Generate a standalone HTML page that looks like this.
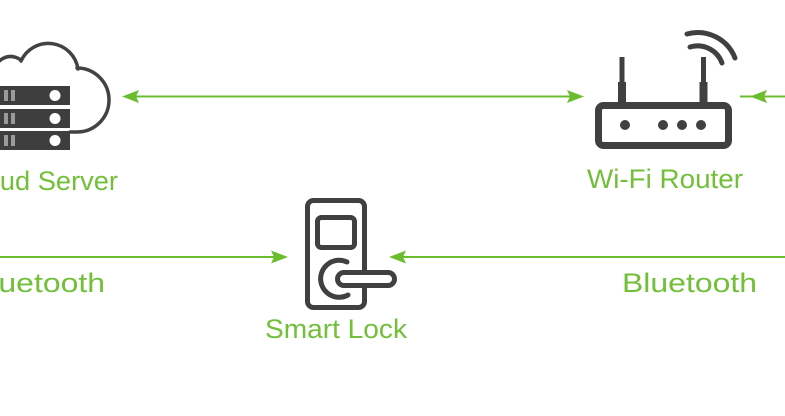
<!DOCTYPE html>
<html>
<head>
<meta charset="utf-8">
<style>
  html,body{margin:0;padding:0;background:#fff;}
  body{width:785px;height:416px;overflow:hidden;}
  svg{display:block;}
  text{font-family:"Liberation Sans",sans-serif;fill:#72bf3a;font-size:27px;}
</style>
</head>
<body>
<svg width="785" height="416" viewBox="0 0 785 416" xmlns="http://www.w3.org/2000/svg">
  <rect width="785" height="416" fill="#fff"/>

  <!-- ===== Cloud Server icon ===== -->
  <g fill="none" stroke="#424242" stroke-width="3.5" stroke-linecap="round" stroke-linejoin="round">
    <path d="M-2,62 Q9,52 21,60"/>
    <path d="M21,61 A30 30 0 0 1 78,69"/>
    <path d="M77,68 A32 32 0 0 1 77,132 L70,132"/>
  </g>
  <g>
    <rect x="-5" y="86" width="75" height="19" fill="#3e3e3e"/>
    <rect x="-5" y="109" width="75" height="19" fill="#3e3e3e"/>
    <rect x="-5" y="131" width="75" height="19" fill="#3e3e3e"/>
    <rect x="4" y="90" width="4" height="11" fill="#9a9a9a"/>
    <rect x="11" y="90" width="4" height="11" fill="#9a9a9a"/>
    <rect x="4" y="113" width="4" height="11" fill="#9a9a9a"/>
    <rect x="11" y="113" width="4" height="11" fill="#9a9a9a"/>
    <rect x="4" y="135" width="4" height="11" fill="#9a9a9a"/>
    <rect x="11" y="135" width="4" height="11" fill="#9a9a9a"/>
    <circle cx="55" cy="95.5" r="5.5" fill="#fff"/>
    <circle cx="55" cy="118.5" r="5.5" fill="#fff"/>
    <circle cx="55" cy="140.5" r="5.5" fill="#fff"/>
  </g>
  <text x="-41" y="190" textLength="159" lengthAdjust="spacingAndGlyphs">Cloud Server</text>

  <!-- ===== Wi-Fi Router icon ===== -->
  <g fill="#404040">
    <path d="M619.5,57 h5 v25 h1.5 v22 h-8 v-22 h1.5 z"/>
    <path d="M701,57 h5 v25 h1.5 v22 h-8 v-22 h1.5 z"/>
  </g>
  <rect x="598.5" y="105.5" width="130" height="40" rx="5" fill="#fff" stroke="#404040" stroke-width="7"/>
  <g fill="#404040">
    <circle cx="625" cy="125" r="5"/>
    <circle cx="663" cy="125" r="5"/>
    <circle cx="682" cy="125" r="5"/>
    <circle cx="701" cy="125" r="5"/>
  </g>
  <g fill="none" stroke="#404040" stroke-width="5" stroke-linecap="round">
    <path d="M690,47 A26 26 0 0 1 722,63"/>
    <path d="M687,34 A40 40 0 0 1 735,58"/>
  </g>
  <text x="587" y="188" textLength="156" lengthAdjust="spacingAndGlyphs">Wi-Fi Router</text>

  <!-- ===== Smart Lock icon ===== -->
  <g fill="none" stroke="#404040" stroke-width="5">
    <rect x="307.5" y="200.5" width="57" height="107" rx="6"/>
    <rect x="317.5" y="217.5" width="37" height="30" rx="4"/>
    <path d="M347,262 A18.5 18.5 0 1 0 348,295" stroke-linecap="round"/>
  </g>
  <rect x="337.5" y="272.5" width="57" height="13" rx="6.5" fill="#fff" stroke="#404040" stroke-width="5"/>
  <text x="265" y="338" textLength="142" lengthAdjust="spacingAndGlyphs">Smart Lock</text>

  <!-- ===== Connectors ===== -->
  <g stroke="#6cbd2e" stroke-width="2" fill="none">
    <line x1="134" y1="96.5" x2="572" y2="96.5"/>
    <line x1="740" y1="96.5" x2="785" y2="96.5"/>
    <line x1="0" y1="257" x2="276" y2="257"/>
    <line x1="400" y1="257" x2="785" y2="257"/>
  </g>
  <g fill="#6cbd2e">
    <path d="M122,96.5 L139,90 L136,96.5 L139,103 Z"/>
    <path d="M584,96.5 L567,90 L570,96.5 L567,103 Z"/>
    <path d="M750,96.5 L767,90 L764,96.5 L767,103 Z"/>
    <path d="M288,257 L271,250.5 L274,257 L271,263.5 Z"/>
    <path d="M389,257 L406,250.5 L403,257 L406,263.5 Z"/>
  </g>

  <!-- Bluetooth labels -->
  <text x="-30" y="292" textLength="135" lengthAdjust="spacingAndGlyphs">Bluetooth</text>
  <text x="622" y="292" textLength="135" lengthAdjust="spacingAndGlyphs">Bluetooth</text>
</svg>
</body>
</html>
